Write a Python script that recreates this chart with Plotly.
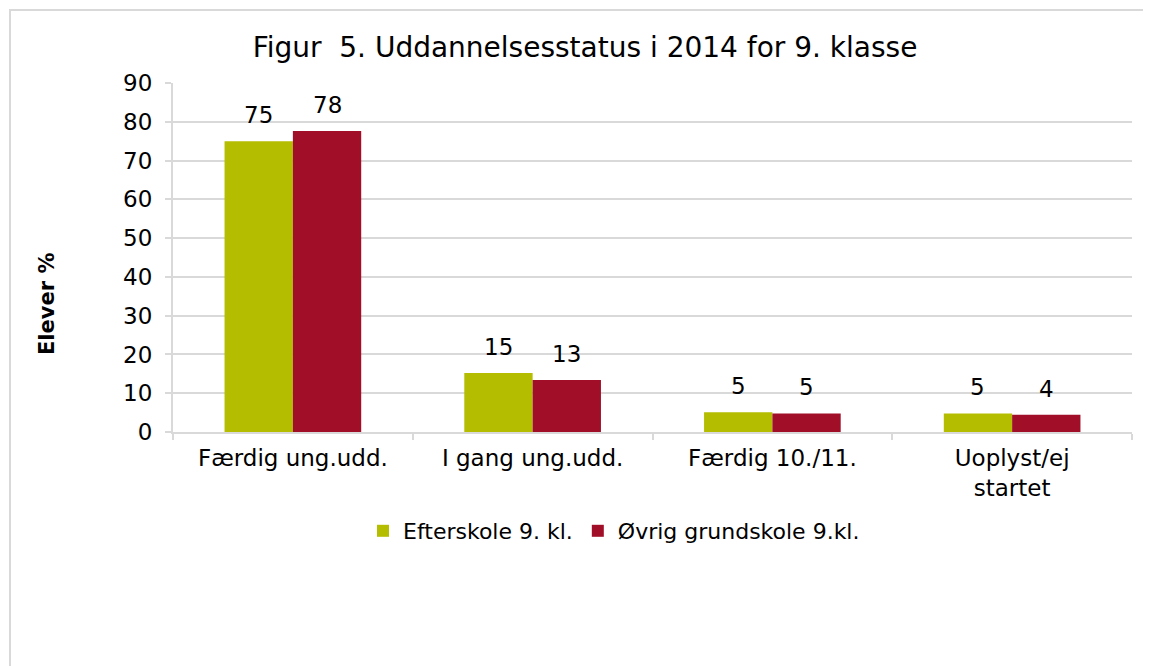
import plotly.graph_objects as go

categories = ["Færdig ung.udd.", "I gang ung.udd.", "Færdig 10./11.", "Uoplyst/ej<br>startet"]
efterskole = [75.0, 15.2, 5.1, 4.8]
oevrig = [77.6, 13.4, 4.8, 4.45]
series_names = ["Efterskole 9. kl.", "Øvrig grundskole 9.kl."]
colors = ["#B5BD00", "#A00E28"]
yticks = [0, 10, 20, 30, 40, 50, 60, 70, 80, 90]

FONT = "DejaVu Sans"
W, H = 1151, 666
L, R, T, B = 165, 27, 75, 242
PW, PH = W - L - R, H - T - B
BARGAP = 0.43

fig = go.Figure()
for name, vals, col in zip(series_names, [efterskole, oevrig], colors):
    fig.add_trace(go.Bar(x=categories, y=vals, name=name, marker_color=col, marker_line_width=0))

# value labels above bars
slot = PW / len(categories)
barw = slot * (1 - BARGAP) / 2
for k, vals in enumerate([efterskole, oevrig]):
    xs = (-0.5 if k == 0 else 0.5) * barw
    for c, v in zip(categories, vals):
        fig.add_annotation(x=c, y=v, xref="x", yref="y", text=f"{v:.0f}", showarrow=False,
                           xshift=xs, yanchor="bottom", yshift=11,
                           font=dict(family=FONT, size=23, color="#000000"))

# y-axis title (placed lower than centre, as in the reference)
fig.add_annotation(x=-126 / PW, y=128 / PH, xref="paper", yref="paper", text="<b>Elever %</b>",
                   textangle=-90, showarrow=False, xanchor="center", yanchor="middle",
                   font=dict(family=FONT, size=21, color="#000000"))

grid = "#D9D9D9"
fig.update_layout(
    width=W, height=H,
    margin=dict(l=L, r=R, t=T, b=B),
    paper_bgcolor="white", plot_bgcolor="white",
    barmode="group", bargap=BARGAP, bargroupgap=0,
    font=dict(family=FONT, size=23, color="#000000"),
    title=dict(text="Figur  5. Uddannelsesstatus i 2014 for 9. klasse",
               x=577 / W, xanchor="center", y=1 - 39 / H, yanchor="middle",
               font=dict(family=FONT, size=28, color="#000000")),
    showlegend=True,
    legend=dict(orientation="h", x=(606 - L) / PW, xanchor="center", y=-99 / PH, yanchor="middle",
                font=dict(family=FONT, size=22), traceorder="normal",
                itemwidth=30, bgcolor="rgba(0,0,0,0)"),
    xaxis=dict(type="category", showgrid=False, showline=True, linecolor=grid, linewidth=2,
               ticks="outside", tickson="boundaries", ticklen=6, tickcolor=grid, tickwidth=2,
               ticklabelstandoff=4, tickfont=dict(family=FONT, size=23)),
    yaxis=dict(range=[0, 90], tickvals=yticks, showgrid=True, gridcolor=grid, gridwidth=2,
               showline=True, linecolor=grid, linewidth=2, ticks="outside", ticklen=6,
               tickcolor=grid, tickwidth=2, zeroline=False, ticklabelstandoff=8,
               tickfont=dict(family=FONT, size=23)),
)

# outer chart border
fig.add_shape(type="rect", xref="paper", yref="paper",
              x0=(2 - L) / PW, x1=(W + 10 - L) / PW,
              y0=(T + PH - H - 10) / PH, y1=(T + PH - 2) / PH,
              line=dict(color=grid, width=2), layer="below")

fig.write_html("out.html")
